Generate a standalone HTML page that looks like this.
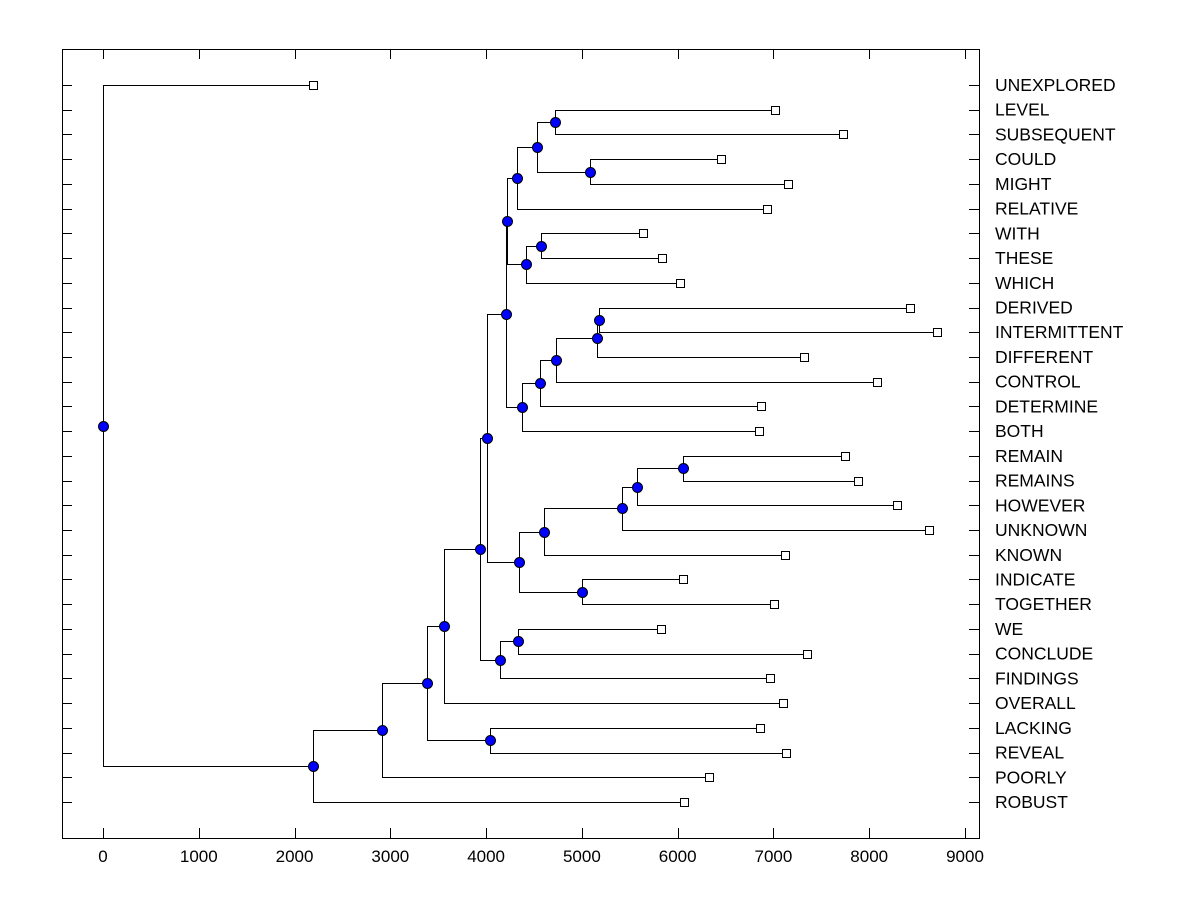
<!DOCTYPE html>
<html><head><meta charset="utf-8"><style>
body{margin:0;background:#fff}
svg text{font-family:"Liberation Sans",Arial,sans-serif}
</style></head><body>
<svg id="chart" width="1200" height="900" xmlns="http://www.w3.org/2000/svg">
<rect width="1200" height="900" fill="#fff"/>
</svg>
<script>
const leafNames = ["UNEXPLORED","LEVEL","SUBSEQUENT","COULD","MIGHT","RELATIVE","WITH","THESE","WHICH","DERIVED","INTERMITTENT","DIFFERENT","CONTROL","DETERMINE","BOTH","REMAIN","REMAINS","HOWEVER","UNKNOWN","KNOWN","INDICATE","TOGETHER","WE","CONCLUDE","FINDINGS","OVERALL","LACKING","REVEAL","POORLY","ROBUST"];
const leafValues = [2193,7016,7726,6452,7152,6933,5638,5836,6024,8426,8708,7319,8081,6870,6849,7747,7883,8290,8624,7120,6056,7006,5826,7350,6964,7100,6860,7131,6327,6066];
const mergeHeights = [4718,5085,4530,4322,4572,4416,4218,5179,5158,4729,4562,4374,4208,6056,5575,5419,4604,5001,4342,4009,4333,4144,3935,3560,4041,3383,2913,2193,0];
const mergeLeft  = ["L1","L3","N0","N2","L6","N4","N3","L9","N7","N8","N9","N10","N6","L15","N13","N14","N15","L20","N16","N12","L22","N20","N19","N22","L26","N23","N25","N26","L0"];
const mergeRight = ["L2","L4","N1","L5","L7","L8","N5","L10","L11","L12","L13","L14","N11","L16","L17","L18","L19","L21","N17","N18","L23","L24","N21","L25","L27","N24","L28","L29","N27"];
const xTicks = [0,1000,2000,3000,4000,5000,6000,7000,8000,9000];

const svg = document.getElementById('chart');
const NS = "http://www.w3.org/2000/svg";
const X0=103, XS=(965-103)/9000;
const xs = v => X0 + v*XS;
const rowY = i => 85 + i*(802-85)/29;
const L=62,R=979,T=49,B=838;

function mk(tag, attrs, parent){const e=document.createElementNS(NS,tag);for(const k in attrs)e.setAttribute(k,attrs[k]);(parent||svg).appendChild(e);return e;}

const frame = mk('rect',{x:L+0.5,y:T+0.5,width:R-L,height:B-T,fill:'none',stroke:'#000','stroke-width':1});



xTicks.forEach(t=>{
  const x=Math.round(xs(t))+0.5;
  mk('line',{x1:x,y1:B,x2:x,y2:B-10,stroke:'#000'});
  mk('line',{x1:x,y1:T,x2:x,y2:T+10,stroke:'#000'});
  const tx=mk('text',{x:xs(t),y:862,'text-anchor':'middle','font-size':17,fill:'#000'});
  tx.textContent=t;
  
  
});

leafNames.forEach((n,i)=>{
  const y=Math.round(rowY(i))+0.5;
  mk('line',{x1:L,y1:y,x2:L+10,y2:y,stroke:'#000'});
  mk('line',{x1:R-10,y1:y,x2:R,y2:y,stroke:'#000'});
  const tx=mk('text',{x:995,y:rowY(i)+6,'font-size':17.5,fill:'#000'});
  tx.textContent=n;
  
  
});

const nodeY=[];
function pos(ref){
  const k=+ref.slice(1);
  if(ref[0]==='L') return {x:xs(leafValues[k]),y:rowY(k)};
  return {x:xs(mergeHeights[k]),y:nodeY[k]};
}
const lines=mk('g',{});


const nodes=[];
mergeHeights.forEach((h,k)=>{
  const a=pos(mergeLeft[k]), b=pos(mergeRight[k]);
  const x=xs(h);
  nodeY[k]=(a.y+b.y)/2;
  const r=v=>Math.round(v)+0.5;
  mk('polyline',{points:`${r(a.x)},${r(a.y)} ${r(x)},${r(a.y)} ${r(x)},${r(b.y)} ${r(b.x)},${r(b.y)}`,fill:'none',stroke:'#000','stroke-width':1},lines);
  nodes.push({x:x,y:nodeY[k]});
});
leafValues.forEach((v,i)=>{
  const m=mk('rect',{x:Math.round(xs(v))-3.5,y:Math.round(rowY(i))-3.5,width:8,height:8,fill:'#fff',stroke:'#000'});
  
  
});
nodes.forEach(p=>{
  const c=mk('circle',{cx:Math.round(p.x)+0.5,cy:Math.round(p.y)+0.5,r:5,fill:'#0000ff',stroke:'#000','stroke-width':1});
  
  
});
</script>
</body></html>
